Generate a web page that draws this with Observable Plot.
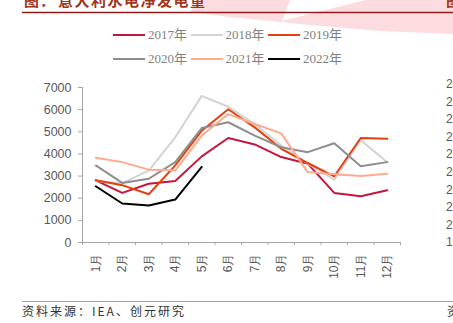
<!DOCTYPE html>
<html><head><meta charset="utf-8">
<script src="https://cdn.jsdelivr.net/npm/d3@7"></script>
<script src="https://cdn.jsdelivr.net/npm/@observablehq/plot@0.6"></script>
<style>
html,body{margin:0;padding:0;background:#fff;overflow:hidden;}
#wrap{position:relative;width:453px;height:323px;overflow:hidden;font-family:"Liberation Sans",Arial,sans-serif;}
.abs{position:absolute;white-space:nowrap;}
</style></head>
<body><div id="wrap"></div>
<script>
const months = ["1月","2月","3月","4月","5月","6月","7月","8月","9月","10月","11月","12月"];
const seriesNames = ["2017年","2018年","2019年","2020年","2021年","2022年"];
const seriesColors = ["#c4173e","#d3d3d3","#e2400c","#8e8e8e","#ffaa8e","#000000"];
const v2017 = [2810,2240,2650,2780,3890,4720,4430,3860,3560,2240,2090,2360];
const v2018 = [2780,2680,3250,4750,6620,6130,5350,4380,3560,2840,4620,3620];
const v2019 = [2810,2590,2180,3480,5050,6020,5200,4230,3590,2990,4720,4690];
const v2020 = [3480,2690,2880,3630,5170,5430,4830,4300,4080,4480,3440,3630];
const v2021 = [3830,3630,3290,3260,4830,5800,5350,4930,3180,3080,3000,3110];
const v2022 = [2540,1760,1670,1940,3410];
const yTicks = [0,1000,2000,3000,4000,5000,6000,7000];
const titleLead = "图：";
const titleText = "意大利水电净发电量";
const sourceText = "资料来源：IEA、创元研究";

const allValues = [v2017,v2018,v2019,v2020,v2021,v2022];
const rows = [];
allValues.forEach((arr, s) => arr.forEach((v, i) => rows.push({series: seriesNames[s], m: i + 1, v})));

const wrap = document.getElementById("wrap");

// background decoration
wrap.insertAdjacentHTML("beforeend",
 `<svg class="abs" style="left:0;top:0" width="453" height="323">
   <polygon points="198,0 290,0 282,21 365,0 453,0 453,34 380,31 300,24 230,17 190,12" fill="#fddcdf"/>
   <line x1="22" x2="453" y1="12.5" y2="12.5" stroke="#8e1c1c" stroke-width="1.5"/>
   <line x1="22" x2="453" y1="301.5" y2="301.5" stroke="#e0868c" stroke-width="1"/>
  </svg>`);

// title (cut off at top, as in the reference)
const tl = document.createElement("div");
tl.className = "abs";
tl.style.cssText = "left:24px;top:-11px;font:bold 15px 'Noto Sans CJK SC',serif;color:#a2331c;letter-spacing:1px;";
tl.textContent = titleLead;
wrap.appendChild(tl);
const t = document.createElement("div");
t.className = "abs";
t.style.cssText = "left:58px;top:-11px;font:bold 15px 'Noto Sans CJK SC',serif;color:#a2331c;letter-spacing:1.5px;";
t.textContent = titleText;
wrap.appendChild(t);
const t2 = document.createElement("div");
t2.className = "abs";
t2.style.cssText = "left:446px;top:-11px;font:bold 15px 'Noto Sans CJK SC',serif;color:#a2331c;";
t2.textContent = "图";
wrap.appendChild(t2);

// legend
seriesNames.forEach((name, i) => {
  const row = Math.floor(i / 3), col = i % 3;
  const x = 113 + col * 77.5, y = 35 + row * 24;
  const sw = document.createElement("div");
  sw.className = "abs";
  sw.style.cssText = `left:${x}px;top:${y - 1.25}px;width:32px;height:2.5px;background:${seriesColors[i]};`;
  wrap.appendChild(sw);
  const tx = document.createElement("div");
  tx.className = "abs";
  tx.style.cssText = `left:${x + 35}px;top:${y - 9}px;font:13px 'Liberation Serif','Noto Sans CJK SC',serif;color:#7f7f7f;line-height:18px;`;
  tx.textContent = name;
  wrap.appendChild(tx);
});

// chart
const chart = Plot.plot({
  width: 453, height: 220,
  marginTop: 17, marginBottom: 48, marginLeft: 82, marginRight: 53,
  style: {background: "transparent", fontFamily: "'Liberation Sans',Arial,sans-serif", fontSize: "12px", color: "#595959", overflow: "visible"},
  x: {domain: [0.5, 12.5], axis: null},
  y: {domain: [0, 7000], axis: null},
  color: {domain: seriesNames, range: seriesColors},
  marks: [
    Plot.axisY({ticks: yTicks, tickFormat: d => String(d), label: null, tickSize: 4, tickPadding: 7, stroke: "#a6a6a6", fill: "#595959", fontSize: 12.5}),
    Plot.ruleX([0.5], {stroke: "#a6a6a6"}),
    Plot.ruleY([0], {stroke: "#a6a6a6"}),
    Plot.axisX({ticks: d3.range(0.5, 13, 1), tickFormat: () => "", label: null, tickSize: 3, stroke: "#a6a6a6"}),
    Plot.text(months, {x: (d, i) => i + 1, y: () => 0, text: d => d, rotate: -90, textAnchor: "end", dy: 11, fill: "#595959", fontSize: 12}),
    Plot.line(rows, {x: "m", y: "v", z: "series", stroke: "series", strokeWidth: 2})
  ]
});
chart.classList.add("abs");
chart.style.left = "0px";
chart.style.top = "70px";
wrap.appendChild(chart);

// neighbouring chart's partial labels at right edge (cut off, as in the reference)
const rightLabels = ["2","2","2","2","2","2","2","2","2","1"];
rightLabels.forEach((s, i) => {
  const d = document.createElement("div");
  d.className = "abs";
  d.style.cssText = `left:446px;top:${84 + i * 17.6 - 7}px;font:12px 'Liberation Sans',Arial,sans-serif;color:#595959;line-height:14px;`;
  d.textContent = s + "000";
  wrap.appendChild(d);
});

// source
const src = document.createElement("div");
src.className = "abs";
src.style.cssText = "left:22px;top:303px;font:12px 'Noto Sans CJK SC',sans-serif;color:#333;letter-spacing:2px;line-height:16px;";
src.textContent = sourceText;
wrap.appendChild(src);
const src2 = document.createElement("div");
src2.className = "abs";
src2.style.cssText = "left:447px;top:303px;font:12px 'Noto Sans CJK SC',sans-serif;color:#333;line-height:16px;";
src2.textContent = "资";
wrap.appendChild(src2);
</script></body></html>
